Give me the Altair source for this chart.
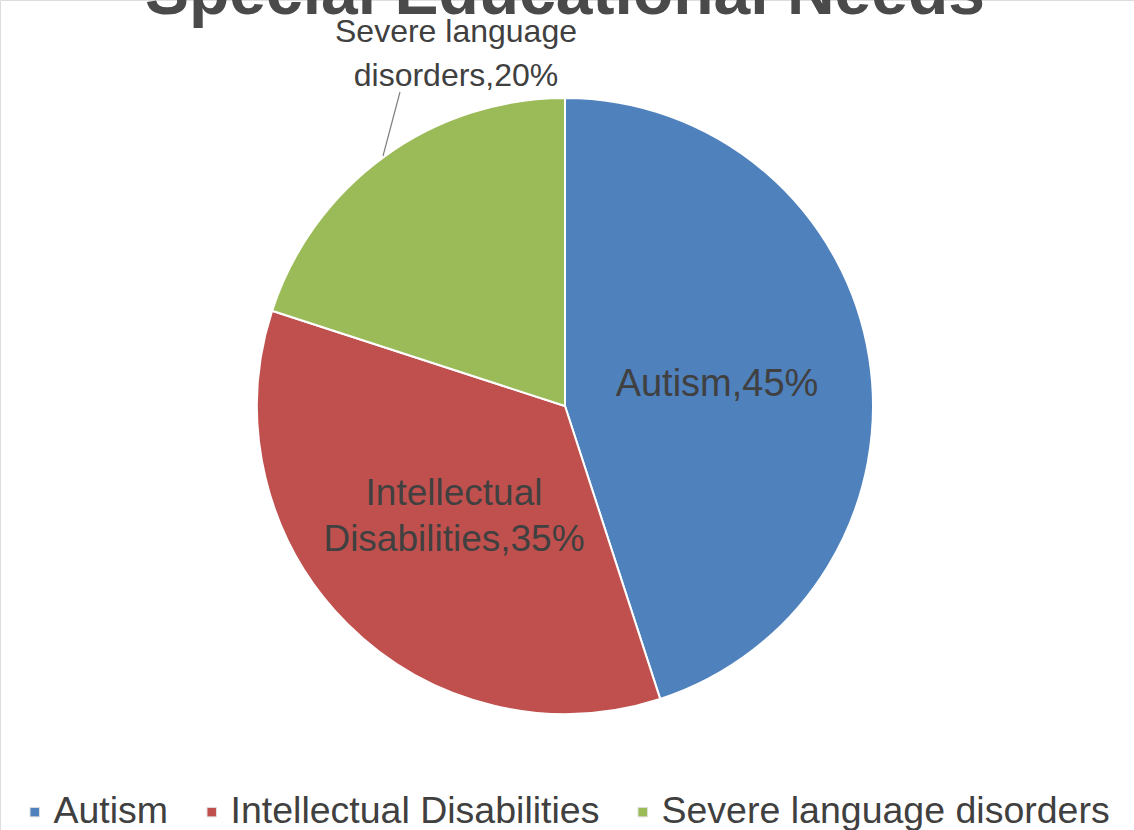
import altair as alt
import pandas as pd

categories = ["Autism", "Intellectual Disabilities", "Severe language disorders"]
shares = [45, 35, 20]
colors = ["#4F81BD", "#C0504D", "#9BBB59"]
title_text = "Special Educational Needs"

df = pd.DataFrame({"cat": categories, "share": shares, "ord": [0, 1, 2]})

W, H = 1134, 830
CX, CY, R = 565, 406, 308
FONT = "Arial"

pie = alt.Chart(df).mark_arc(outerRadius=R, stroke="white", strokeWidth=2).encode(
    theta=alt.Theta("share:Q", stack=True),
    order=alt.Order("ord:Q"),
    color=alt.Color(
        "cat:N",
        scale=alt.Scale(domain=categories, range=colors),
        legend=alt.Legend(
            title=None, orient="none", legendX=16, legendY=793, direction="horizontal",
            labelFontSize=37.5, labelFont=FONT, labelColor="#404040", symbolType="square",
            symbolSize=90, columnPadding=24, labelOffset=0, symbolStrokeWidth=1,
            symbolStrokeColor="#e0e0e0", labelLimit=600,
        ),
    ),
    x=alt.value(CX),
    y=alt.value(CY),
)

def txt(s, x, y, size, color="#404040", weight="normal", baseline="middle"):
    d = pd.DataFrame({"t": [s]})
    return alt.Chart(d).mark_text(
        fontSize=size, font=FONT, color=color, fontWeight=weight,
        align="center", baseline=baseline,
    ).encode(text="t:N", x=alt.value(x), y=alt.value(y))

lbl_autism = txt(f"{categories[0]},{shares[0]}%", 717, 385, 38)
lbl_int1 = txt("Intellectual", 454, 494, 37)
lbl_int2 = txt(f"Disabilities,{shares[1]}%", 454, 540, 37)
lbl_sev1 = txt("Severe language", 456, 32, 32)
lbl_sev2 = txt(f"disorders,{shares[2]}%", 456, 76, 32)
title = txt(title_text, 565, 14, 66, color="#4a4a4a", weight="bold", baseline="alphabetic")

leader = alt.Chart(pd.DataFrame({"a": [0]})).mark_rule(color="#808080", strokeWidth=1.2).encode(
    x=alt.value(400), y=alt.value(92), x2=alt.value(383), y2=alt.value(156)
)

chart = alt.layer(
    pie, leader, lbl_autism, lbl_int1, lbl_int2, lbl_sev1, lbl_sev2, title
).properties(
    width=W, height=H, padding=0, autosize=alt.AutoSizeParams(type="none"),
).configure_view(stroke=None).configure(background="white")

chart.save("out.html", embed_options={"renderer": "svg", "actions": False})
